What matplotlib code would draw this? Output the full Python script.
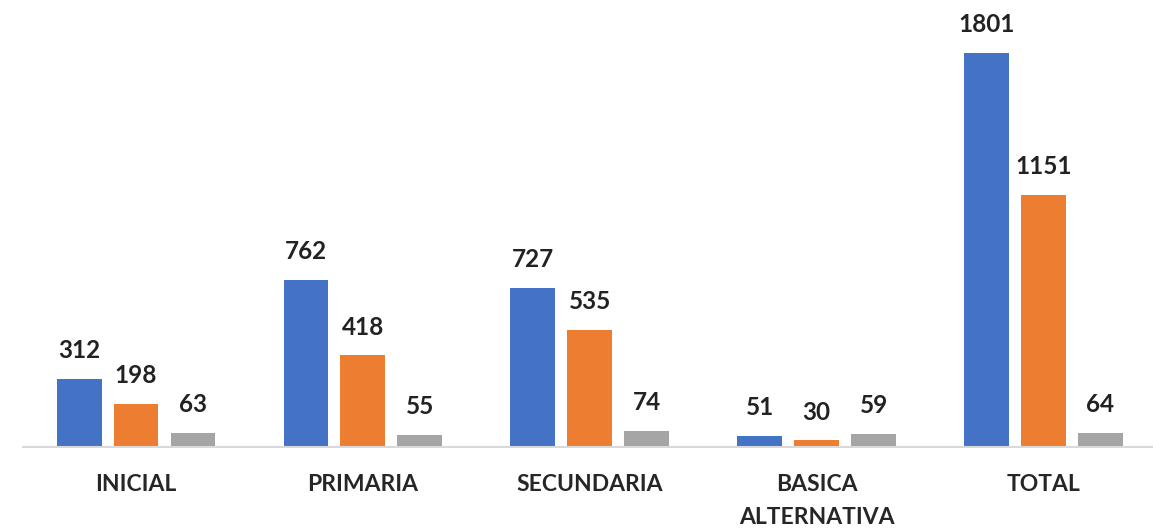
import matplotlib
matplotlib.use("Agg")
import matplotlib.pyplot as plt
import numpy as np

categories = ["INICIAL", "PRIMARIA", "SECUNDARIA", "BASICA\nALTERNATIVA", "TOTAL"]
serie1 = [312, 762, 727, 51, 1801]
serie2 = [198, 418, 535, 30, 1151]
serie3 = [63, 55, 74, 59, 64]

colors = ["#4472C4", "#ED7D31", "#A5A5A5"]

W, H = 1153, 529
fig = plt.figure(figsize=(W / 100, H / 100), dpi=100)
left = 22.6 / W
ax = fig.add_axes([left, (H - 447) / H, 1 - left, 447 / H])

x = np.arange(len(categories))
bw = 0.198
step = 0.251
font = ["Lato", "DejaVu Sans"]
for i, (vals, c) in enumerate(zip([serie1, serie2, serie3], colors)):
    pos = x + (i - 1) * step
    bars = ax.bar(pos, vals, width=bw, color=c, zorder=2)
    for p, v in zip(pos, vals):
        ax.annotate(str(v), (p, v), xytext=(0, 15), textcoords="offset points",
                    ha="center", va="baseline", fontsize=17.5, fontweight="bold",
                    color="#222222", family=font)

ax.set_xlim(-0.5, 4 + (W - 1043.5) / 226.9)
ax.set_ylim(0, 2041)
for s in ["top", "left", "right"]:
    ax.spines[s].set_visible(False)
ax.spines["bottom"].set_color("#D9D9D9")
ax.spines["bottom"].set_linewidth(1.5)
ax.set_yticks([])
ax.set_xticks(x)
ax.set_xticklabels(categories, fontsize=16.5, fontweight="bold", color="#262626",
                   family=font, linespacing=1.7)
ax.tick_params(axis="x", length=0, pad=19.5)
ax.patch.set_alpha(0)

fig.savefig("out.png", dpi=100)
